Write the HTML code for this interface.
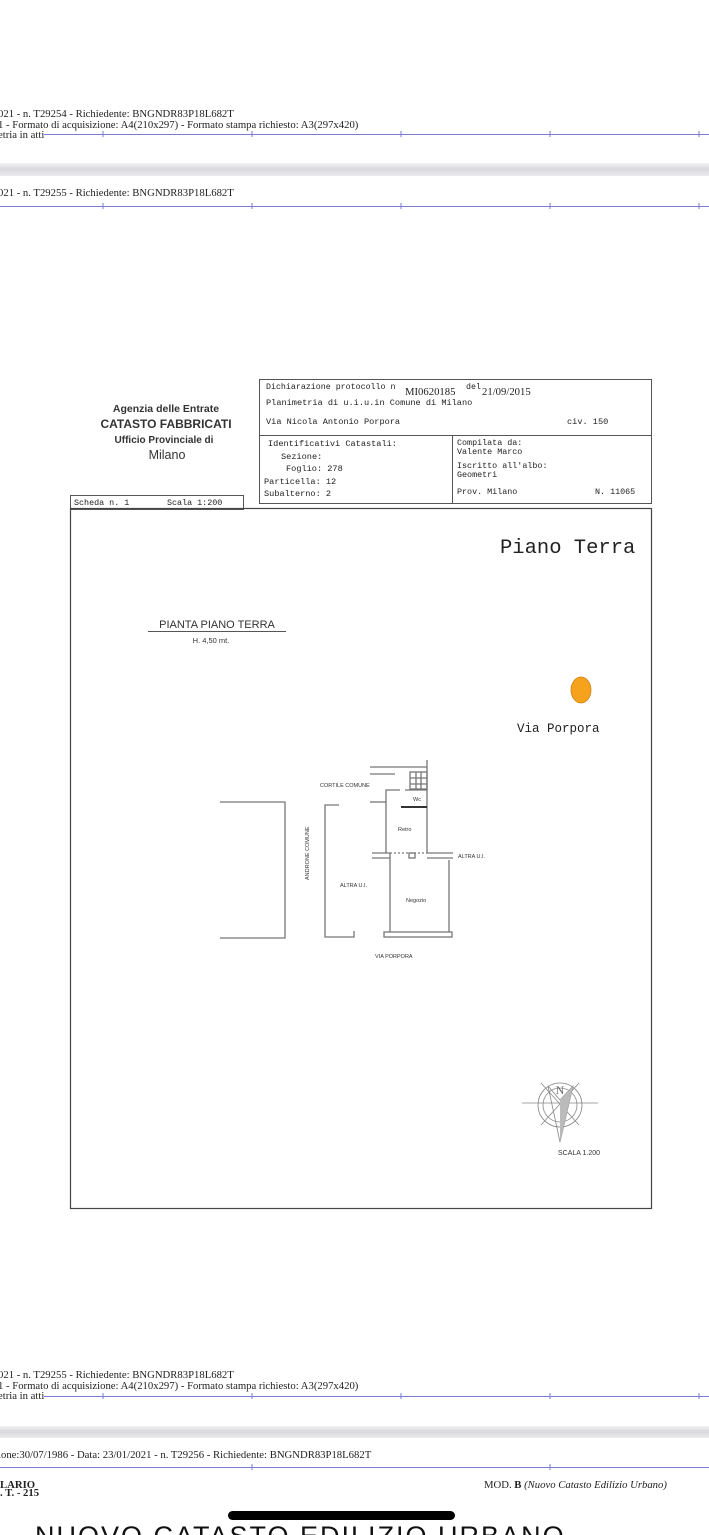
<!DOCTYPE html>
<html><head><meta charset="utf-8"><style>
html,body{margin:0;padding:0;background:#fff;width:709px;height:1535px;overflow:hidden}
svg{display:block}
.s{font-family:"Liberation Serif",serif;font-size:10.7px;fill:#222}
.m{font-family:"Liberation Mono",monospace;fill:#222}
.a{font-family:"Liberation Sans",sans-serif;fill:#333}
</style></head><body>
<svg width="709" height="1535" viewBox="0 0 709 1535" xmlns="http://www.w3.org/2000/svg">
<defs><linearGradient id="g" x1="0" y1="0" x2="0" y2="1"><stop offset="0" stop-color="#f2f2f4"/><stop offset="0.5" stop-color="#d9d9dd"/><stop offset="1" stop-color="#ececef"/></linearGradient></defs>
<!-- top -->
<text class="s" x="-2" y="117">021 - n. T29254 - Richiedente: BNGNDR83P18L682T</text>
<text class="s" x="-2" y="128">1 - Formato di acquisizione: A4(210x297)  - Formato stampa richiesto: A3(297x420)</text>
<text class="s" x="-2" y="138">etria in atti</text>
<g stroke="#7a7ad8" stroke-width="1"><line x1="44" y1="134.5" x2="709" y2="134.5"/>
<line x1="103" y1="131" x2="103" y2="137"/><line x1="252" y1="131" x2="252" y2="137"/><line x1="401" y1="131" x2="401" y2="137"/><line x1="550" y1="131" x2="550" y2="137"/><line x1="699" y1="131" x2="699" y2="137"/></g>
<rect x="0" y="163" width="709" height="13" fill="url(#g)"/>
<text class="s" x="-2" y="196">021 - n. T29255 - Richiedente: BNGNDR83P18L682T</text>
<g stroke="#7a7ad8" stroke-width="1"><line x1="0" y1="206.5" x2="709" y2="206.5"/>
<line x1="103" y1="203" x2="103" y2="209"/><line x1="252" y1="203" x2="252" y2="209"/><line x1="401" y1="203" x2="401" y2="209"/><line x1="550" y1="203" x2="550" y2="209"/><line x1="699" y1="203" x2="699" y2="209"/></g>

<!-- header -->
<text class="a" x="166" y="412" font-size="10.5" font-weight="bold" text-anchor="middle" fill="#222">Agenzia delle Entrate</text>
<text class="a" x="166" y="428" font-size="12" font-weight="bold" text-anchor="middle" fill="#222">CATASTO FABBRICATI</text>
<text class="a" x="164" y="443" font-size="10" font-weight="bold" text-anchor="middle" fill="#222">Ufficio Provinciale di</text>
<text class="a" x="167" y="459" font-size="12.5" text-anchor="middle" fill="#222">Milano</text>
<g fill="none" stroke="#555" stroke-width="1">
<rect x="259.5" y="379.5" width="392" height="124"/>
<line x1="259.5" y1="435.5" x2="651.5" y2="435.5"/>
<line x1="452.5" y1="435.5" x2="452.5" y2="503.5"/>
<rect x="70.5" y="495.5" width="173" height="14"/>
</g>
<text class="m" x="266" y="389" font-size="8.3">Dichiarazione protocollo n</text>
<text class="s" x="405" y="395" font-size="10">MI0620185</text>
<text class="m" x="466" y="389" font-size="8.3">del</text>
<text class="s" x="482" y="395" font-size="10">21/09/2015</text>
<text class="m" x="266" y="405" font-size="8.6">Planimetria di u.i.u.in Comune di Milano</text>
<text class="m" x="266" y="424" font-size="8.6">Via Nicola Antonio Porpora</text>
<text class="m" x="567" y="424" font-size="8.6">civ. 150</text>
<text class="m" x="268" y="446" font-size="8.6">Identificativi Catastali:</text>
<text class="m" x="281" y="459" font-size="8.6">Sezione:</text>
<text class="m" x="286" y="471" font-size="8.6">Foglio: 278</text>
<text class="m" x="264" y="484" font-size="8.6">Particella: 12</text>
<text class="m" x="264" y="496" font-size="8.6">Subalterno: 2</text>
<text class="m" x="457" y="445" font-size="8.4">Compilata da:</text>
<text class="m" x="457" y="454" font-size="8.4">Valente Marco</text>
<text class="m" x="457" y="468" font-size="8.4">Iscritto all'albo:</text>
<text class="m" x="457" y="477" font-size="8.4">Geometri</text>
<text class="m" x="457" y="494" font-size="8.4">Prov. Milano</text>
<text class="m" x="595" y="494" font-size="8.4">N. 11065</text>
<text class="m" x="74" y="505" font-size="8.4">Scheda n. 1</text>
<text class="m" x="167" y="505" font-size="8.4">Scala 1:200</text>

<!-- main frame -->
<rect x="70.5" y="508.5" width="581" height="700" fill="none" stroke="#444" stroke-width="1.2"/>
<text class="m" x="500" y="553" font-size="20.5">Piano Terra</text>
<text class="a" x="217" y="628" font-size="11" text-anchor="middle">PIANTA PIANO TERRA</text>
<line x1="148" y1="631.5" x2="286" y2="631.5" stroke="#555"/>
<text class="a" x="211" y="643" font-size="7.5" text-anchor="middle">H. 4,50 mt.</text>
<ellipse cx="581" cy="690" rx="10" ry="13" fill="#f6a21c" stroke="#d0801a" stroke-width="0.8"/>
<text class="m" x="517" y="732" font-size="12.5">Via Porpora</text>

<!-- plan -->
<g fill="none" stroke="#777" stroke-width="1.3">
<polyline points="220,802 285,802 285,938 220,938"/>
<polyline points="339,805 325,805 325,937 354,937 354,931"/>
<polyline points="386,805 386,790 400,790"/>
<polyline points="405,790 427,790 427,853"/>
<line x1="386" y1="805" x2="386" y2="853"/>
<line x1="390" y1="853" x2="390" y2="932"/>
<line x1="449" y1="860" x2="449" y2="932"/>
<line x1="372" y1="853" x2="390" y2="853"/>
<line x1="427" y1="853" x2="453" y2="853"/>
<line x1="372" y1="858" x2="390" y2="858"/>
<line x1="427" y1="858" x2="453" y2="858"/>
<line x1="390" y1="853" x2="427" y2="853" stroke-dasharray="2,2"/>
<rect x="409" y="853" width="6" height="5"/>
<rect x="384" y="932" width="68" height="5"/>
<line x1="370" y1="767" x2="427" y2="767"/>
<line x1="370" y1="774" x2="395" y2="774"/>
<line x1="427" y1="760" x2="427" y2="790"/>
<rect x="410" y="772" width="17" height="17"/>
<line x1="410" y1="778" x2="427" y2="778"/><line x1="410" y1="784" x2="427" y2="784"/>
<line x1="416" y1="772" x2="416" y2="789"/><line x1="421" y1="772" x2="421" y2="789"/>
<line x1="370" y1="802" x2="386" y2="802"/>
<line x1="401" y1="807" x2="427" y2="807" stroke="#333" stroke-width="2"/>
</g>
<g class="a" font-size="5.5" fill="#555">
<text x="320" y="787">CORTILE COMUNE</text>
<text x="413" y="801">Wc</text>
<text x="398" y="831">Retro</text>
<text x="458" y="858">ALTRA U.I.</text>
<text x="340" y="887">ALTRA U.I.</text>
<text x="406" y="902">Negozio</text>
<text x="375" y="958">VIA PORPORA</text>
<text transform="translate(309,880) rotate(-90)">ANDRONE COMUNE</text>
</g>

<!-- compass -->
<g fill="none" stroke="#888" stroke-width="0.8">
<circle cx="560" cy="1105" r="22"/>
<circle cx="560" cy="1105" r="17"/>
<line x1="522" y1="1103" x2="598" y2="1103"/>
<line x1="541" y1="1083" x2="579" y2="1125"/><line x1="579" y1="1083" x2="541" y2="1125"/>
<polygon points="548,1086 560,1142 573,1086 560,1100"/>
</g>
<polygon points="560,1100 573,1086 560,1142" fill="#bbb"/>
<text x="560" y="1094" font-family="Liberation Serif,serif" font-size="12" text-anchor="middle" fill="#666">N</text>
<text class="a" x="558" y="1155" font-size="7" fill="#222">SCALA 1.200</text>

<!-- bottom -->
<text class="s" x="-2" y="1378">021 - n. T29255 - Richiedente: BNGNDR83P18L682T</text>
<text class="s" x="-2" y="1389">1 - Formato di acquisizione: A4(210x297)  - Formato stampa richiesto: A3(297x420)</text>
<text class="s" x="-2" y="1399">etria in atti</text>
<g stroke="#7a7ad8" stroke-width="1"><line x1="44" y1="1396.5" x2="709" y2="1396.5"/>
<line x1="103" y1="1393" x2="103" y2="1399"/><line x1="252" y1="1393" x2="252" y2="1399"/><line x1="401" y1="1393" x2="401" y2="1399"/><line x1="550" y1="1393" x2="550" y2="1399"/><line x1="699" y1="1393" x2="699" y2="1399"/></g>
<rect x="0" y="1426" width="709" height="12" fill="url(#g)"/>
<text class="s" x="-2" y="1458">ione:30/07/1986 - Data: 23/01/2021 - n. T29256 - Richiedente: BNGNDR83P18L682T</text>
<g stroke="#7a7ad8" stroke-width="1"><line x1="0" y1="1467.5" x2="709" y2="1467.5"/>
<line x1="252" y1="1464" x2="252" y2="1470"/><line x1="550" y1="1464" x2="550" y2="1470"/></g>
<text class="s" x="0" y="1488" font-size="6" font-weight="bold">LARIO</text>
<text class="s" x="0" y="1496" font-size="6" font-weight="bold">. T. - 215</text>
<text class="s" x="484" y="1488" font-size="7">MOD. <tspan font-weight="bold">B</tspan> <tspan font-style="italic">(Nuovo Catasto Edilizio Urbano)</tspan></text>
<text x="35" y="1545" font-family="Liberation Sans,sans-serif" font-size="27" letter-spacing="2" fill="#111">NUOVO CATASTO EDILIZIO URBANO</text>
<rect x="228" y="1511" width="227" height="9" rx="4.5" fill="#000"/>
</svg>
</body></html>
